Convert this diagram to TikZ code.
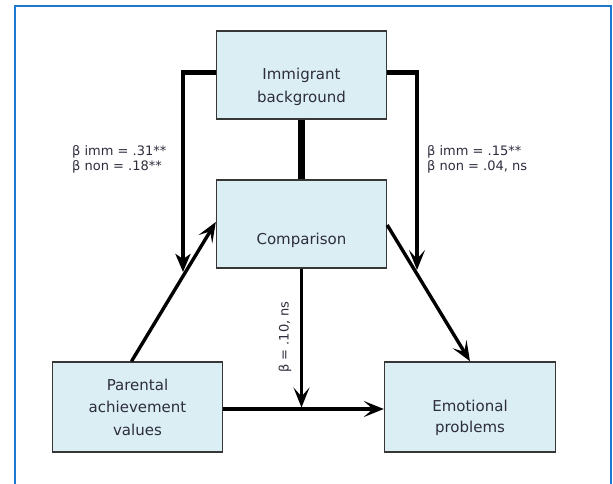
\documentclass[tikz,border=0pt]{standalone}
\usepackage{fontspec}
\setmainfont{DejaVu Sans}
\usetikzlibrary{arrows.meta,calc}
\definecolor{boxfill}{RGB}{219,238,244}
\definecolor{boxline}{RGB}{55,55,55}
\definecolor{framecol}{RGB}{30,120,210}
\definecolor{txtcol}{RGB}{45,45,62}
\tikzset{
  boxnode/.style={draw=boxline, line width=1.4pt, fill=boxfill, inner sep=0pt, minimum width=170pt, minimum height=88pt},
  boxtext/.style={text=txtcol, align=center, inner sep=0pt, font=\fontsize{15}{22.5}\selectfont},
  lbl/.style={text=txtcol, align=left, inner sep=0pt, font=\fontsize{13}{15.5}\selectfont},
  arr/.style={line width=3.4pt, -{Stealth[length=20pt,width=16pt,inset=9pt]}},
  arrfill/.style={line width=3.4pt, -{Stealth[length=18pt,width=15pt,inset=5pt]}},
  thickseg/.style={line width=5pt},
  framestyle/.style={draw=framecol, line width=2pt}
}
\begin{document}
\begin{tikzpicture}[x=1pt,y=-1pt]
\useasboundingbox (0,0) rectangle (613,484);
\draw[framestyle] (15,490) -- (15,6) -- (611,6) -- (611,490);

\node[boxnode] (imm) at (301.5,75) {};
\node[boxnode] (comp) at (301.5,224) {};
\node[boxnode, minimum height=90pt] (par) at (137.5,407) {};
\node[boxnode, minimum height=90pt, minimum width=171pt] (emo) at (470,407) {};

\node[boxtext] (immt) at (301.5,87) {Immigrant\\background};
\node[boxtext] (compt) at (301.5,240) {Comparison};
\node[boxtext] (part) at (137.5,407) {Parental\\achievement\\values};
\node[boxtext, font=\fontsize{15}{21}\selectfont] (emot) at (470,418) {Emotional\\problems};

% immigrant to comparison
\draw[line width=6.5pt] (imm.south) -- (comp.north);

% left path
\coordinate (La) at (181.3,73);
\coordinate (Lb) at (183,70.5);
\coordinate (Lc) at (183,272);
\draw[thickseg] (imm.west |- La) -- (La);
\draw[arrfill] (Lb) -- (Lc);

% right path
\coordinate (Ra) at (418.7,73);
\coordinate (Rb) at (417,70.5);
\coordinate (Rc) at (417,270);
\draw[thickseg] (imm.east |- Ra) -- (Ra);
\draw[arr] (Rb) -- (Rc);

% parental -> comparison
\draw[arr] ($(par.north west)!0.465!(par.north east)$) -- ($(comp.west)+(0,-2)$);
% comparison -> emotional
\draw[arr] ($(comp.east)+(0,1)$) -- (emo.north);
% parental -> emotional
\draw[arr] ($(par.east)+(0,2)$) -- ($(emo.west)+(0,2)$);
% comparison -> moderation
\coordinate (M) at ($(comp.south |- par.east)+(0,0.5)$);
\draw[arr] (comp.south) -- (M);

% labels
\node[lbl, anchor=west] (lblL) at (72,159.5) {β imm = .31**\\β non = .18**};
\node[lbl, anchor=west] (lblR) at (427,159.5) {β imm = .15**\\β non = .04, ns};
\node[lbl, rotate=90] (lblM) at (285,337) {β = .10, ns};
\end{tikzpicture}
\end{document}
